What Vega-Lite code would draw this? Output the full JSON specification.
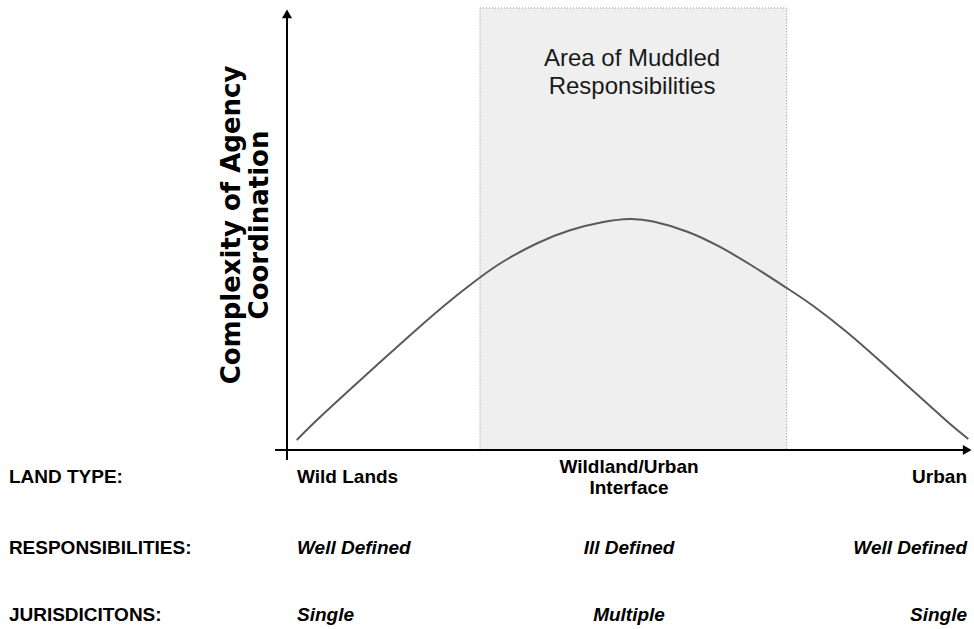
{
  "$schema": "https://vega.github.io/schema/vega-lite/v6.json",
  "width": 974,
  "height": 629,
  "autosize": {"type": "fit", "contains": "padding"},
  "padding": 0,
  "background": "white",
  "config": {"view": {"stroke": null}},
  "datasets": {
    "region": [{"x": 28.38, "x2": 73.49, "y": 0, "y2": 100.45}],
    "curve": [
      {"x": 1.43, "y": 2.27}, {"x": 4.6, "y": 7.09}, {"x": 9.51, "y": 14.09}, {"x": 14.41, "y": 20.95},
      {"x": 19.31, "y": 27.73}, {"x": 24.22, "y": 34.2}, {"x": 28.38, "y": 39.2}, {"x": 31.81, "y": 42.84},
      {"x": 36.72, "y": 46.93}, {"x": 41.62, "y": 49.93}, {"x": 46.51, "y": 51.82}, {"x": 50.44, "y": 52.5},
      {"x": 53.87, "y": 51.93}, {"x": 58.78, "y": 49.66}, {"x": 63.68, "y": 46.14}, {"x": 68.57, "y": 41.7},
      {"x": 73.49, "y": 36.82}, {"x": 77.4, "y": 32.73}, {"x": 82.31, "y": 26.82}, {"x": 87.21, "y": 20.23},
      {"x": 92.1, "y": 13.41}, {"x": 97.01, "y": 6.59}, {"x": 100.19, "y": 2.5}
    ],
    "axes": [
      {"axis": "vertical", "x": 0, "x2": 0, "y": -2.27, "y2": 99.0},
      {"axis": "horizontal", "x": -1.76, "x2": 100.1, "y": 0, "y2": 0}
    ],
    "arrows": [
      {"axis": "vertical", "x": 0, "y": 99.1},
      {"axis": "horizontal", "x": 100.03, "y": 0}
    ],
    "area": [{"x": 50.74, "y": 87.34, "label": "Area of Muddled\nResponsibilities"}],
    "ylabel": [{"x": -8.09, "y": 51.14, "label": "Complexity of Agency\nCoordination"}],
    "labels": [
      {"row": "land", "col": "head", "x": -40.9, "y": -6.14, "label": "LAND TYPE:"},
      {"row": "land", "col": "left", "x": 1.47, "y": -6.14, "label": "Wild Lands"},
      {"row": "land", "col": "mid", "x": 50.3, "y": -6.14, "label": "Wildland/Urban\nInterface"},
      {"row": "land", "col": "right", "x": 100, "y": -6.14, "label": "Urban"},
      {"row": "resp", "col": "head", "x": -40.9, "y": -22.27, "label": "RESPONSIBILITIES:"},
      {"row": "resp", "col": "left", "x": 1.47, "y": -22.27, "label": "Well Defined"},
      {"row": "resp", "col": "mid", "x": 50.3, "y": -22.27, "label": "Ill Defined"},
      {"row": "resp", "col": "right", "x": 100, "y": -22.27, "label": "Well Defined"},
      {"row": "juris", "col": "head", "x": -40.9, "y": -37.5, "label": "JURISDICITONS:"},
      {"row": "juris", "col": "left", "x": 1.47, "y": -37.5, "label": "Single"},
      {"row": "juris", "col": "mid", "x": 50.3, "y": -37.5, "label": "Multiple"},
      {"row": "juris", "col": "right", "x": 100, "y": -37.5, "label": "Single"}
    ]
  },
  "layer": [
    {
      "data": {"name": "region"},
      "mark": {"type": "rect", "fill": "#efefef", "stroke": "#8c8c8c", "strokeWidth": 1, "strokeDash": [1, 2]},
      "encoding": {
        "x": {"field": "x", "type": "quantitative", "scale": {"domain": [-42.206, 101.03], "nice": false, "zero": false}, "axis": null},
        "x2": {"field": "x2"},
        "y": {"field": "y", "type": "quantitative", "scale": {"domain": [-40.68, 102.27], "nice": false, "zero": false}, "axis": null},
        "y2": {"field": "y2"}
      }
    },
    {
      "data": {"name": "curve"},
      "mark": {"type": "line", "color": "#5a5a5a", "strokeWidth": 2, "interpolate": "natural"},
      "encoding": {
        "x": {"field": "x", "type": "quantitative", "scale": {"domain": [-42.206, 101.03], "nice": false, "zero": false}, "axis": null},
        "y": {"field": "y", "type": "quantitative", "scale": {"domain": [-40.68, 102.27], "nice": false, "zero": false}, "axis": null}
      }
    },
    {
      "data": {"name": "axes"},
      "mark": {"type": "rule", "color": "black", "strokeWidth": 2},
      "encoding": {
        "x": {"field": "x", "type": "quantitative", "scale": {"domain": [-42.206, 101.03], "nice": false, "zero": false}, "axis": null},
        "x2": {"field": "x2"},
        "y": {"field": "y", "type": "quantitative", "scale": {"domain": [-40.68, 102.27], "nice": false, "zero": false}, "axis": null},
        "y2": {"field": "y2"}
      }
    },
    {
      "data": {"name": "arrows"},
      "transform": [{"filter": "datum.axis === 'vertical'"}],
      "mark": {"type": "point", "shape": "triangle-up", "filled": true, "color": "black", "opacity": 1, "size": 100},
      "encoding": {
        "x": {"field": "x", "type": "quantitative", "scale": {"domain": [-42.206, 101.03], "nice": false, "zero": false}, "axis": null},
        "y": {"field": "y", "type": "quantitative", "scale": {"domain": [-40.68, 102.27], "nice": false, "zero": false}, "axis": null}
      }
    },
    {
      "data": {"name": "arrows"},
      "transform": [{"filter": "datum.axis === 'horizontal'"}],
      "mark": {"type": "point", "shape": "triangle-right", "filled": true, "color": "black", "opacity": 1, "size": 100},
      "encoding": {
        "x": {"field": "x", "type": "quantitative", "scale": {"domain": [-42.206, 101.03], "nice": false, "zero": false}, "axis": null},
        "y": {"field": "y", "type": "quantitative", "scale": {"domain": [-40.68, 102.27], "nice": false, "zero": false}, "axis": null}
      }
    },
    {
      "data": {"name": "area"},
      "mark": {"type": "text", "font": "Liberation Sans", "fontSize": 24, "color": "#1a1a1a", "align": "center", "baseline": "alphabetic", "lineBreak": "\n", "lineHeight": 28},
      "encoding": {
        "x": {"field": "x", "type": "quantitative", "scale": {"domain": [-42.206, 101.03], "nice": false, "zero": false}, "axis": null},
        "y": {"field": "y", "type": "quantitative", "scale": {"domain": [-40.68, 102.27], "nice": false, "zero": false}, "axis": null},
        "text": {"field": "label"}
      }
    },
    {
      "data": {"name": "ylabel"},
      "mark": {"type": "text", "font": "DejaVu Sans", "fontWeight": "bold", "fontSize": 26, "color": "black", "align": "center", "baseline": "middle", "angle": 270, "lineBreak": "\n", "lineHeight": 28},
      "encoding": {
        "x": {"field": "x", "type": "quantitative", "scale": {"domain": [-42.206, 101.03], "nice": false, "zero": false}, "axis": null},
        "y": {"field": "y", "type": "quantitative", "scale": {"domain": [-40.68, 102.27], "nice": false, "zero": false}, "axis": null},
        "text": {"field": "label"}
      }
    },
    {
      "data": {"name": "labels"},
      "mark": {
        "type": "text", "font": "Liberation Sans", "fontWeight": "bold", "fontSize": 19, "color": "black",
        "baseline": "middle", "lineBreak": "\n", "lineHeight": 21,
        "dy": {"expr": "-(length(split(datum.label, '\\n')) - 1) * 10.5"},
        "align": {"expr": "datum.col === 'mid' ? 'center' : (datum.col === 'right' ? 'right' : 'left')"},
        "fontStyle": {"expr": "(datum.col !== 'head' && datum.row !== 'land') ? 'italic' : 'normal'"}
      },
      "encoding": {
        "x": {"field": "x", "type": "quantitative", "scale": {"domain": [-42.206, 101.03], "nice": false, "zero": false}, "axis": null},
        "y": {"field": "y", "type": "quantitative", "scale": {"domain": [-40.68, 102.27], "nice": false, "zero": false}, "axis": null},
        "text": {"field": "label"}
      }
    }
  ]
}
